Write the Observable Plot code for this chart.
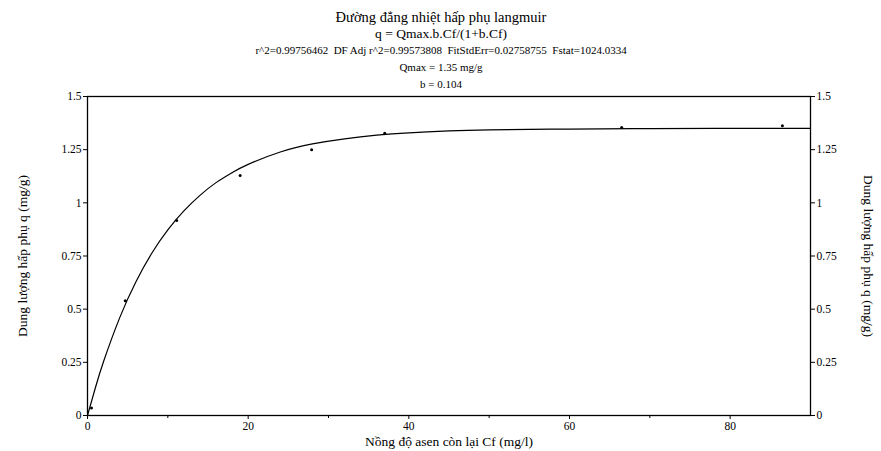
<!DOCTYPE html>
<html>
<head>
<meta charset="utf-8">
<script src="https://cdn.jsdelivr.net/npm/d3@7"></script>
<script src="https://cdn.jsdelivr.net/npm/@observablehq/plot@0.6"></script>
<style>
  html, body { margin: 0; padding: 0; background: #fff; }
  svg { font-family: "Liberation Serif", "DejaVu Serif", serif; }
</style>
</head>
<body>
<div id="chart"></div>
<script>
// Measured points: residual arsenic concentration Cf (mg/l) vs adsorption capacity q (mg/g)
const cfPoints = [0.5, 4.7, 11.1, 19.0, 27.9, 37.0, 66.5, 86.5];
const qPoints  = [0.035, 0.54, 0.917, 1.128, 1.25, 1.327, 1.354, 1.362];

// Fitted curve
const cfCurve = [0, 1, 2, 4, 6, 8, 10, 12, 14, 16, 18, 20, 24, 28, 32, 36, 40, 45, 50, 60, 70, 80, 90];
const qCurve  = [0, 0.133, 0.254, 0.459, 0.627, 0.763, 0.873, 0.962, 1.035, 1.095, 1.142, 1.181, 1.239, 1.277, 1.301, 1.318, 1.329, 1.338, 1.343, 1.347, 1.349, 1.35, 1.35];

const xTicks = [0, 20, 40, 60, 80];
const xMinorTicks = [10, 30, 50, 70];
const yTicks = [0, 0.25, 0.5, 0.75, 1, 1.25, 1.5];

const titleLines = [
  "Đường đẳng nhiệt hấp phụ langmuir",
  "q = Qmax.b.Cf/(1+b.Cf)",
  "r^2=0.99756462  DF Adj r^2=0.99573808  FitStdErr=0.02758755  Fstat=1024.0334",
  "Qmax = 1.35 mg/g",
  "b = 0.104"
];
const xLabel = "Nồng độ asen còn lại Cf (mg/l)";
const yLabel = "Dung lượng hấp phụ q (mg/g)";

const points = cfPoints.map((x, i) => ({x, y: qPoints[i]}));
const curve = cfCurve.map((x, i) => ({x, y: qCurve[i]}));

const titleSizes = [14.5, 13.5, 11, 11, 11];
const titleOffsets = [-79, -63, -46, -29, -12];

const chart = Plot.plot({
  width: 881,
  height: 451,
  marginLeft: 87,
  marginRight: 71,
  marginTop: 96,
  marginBottom: 36,
  style: {fontFamily: "Liberation Serif, serif", fontSize: "11px", color: "#000", background: "#fff"},
  x: {domain: [0, 90]},
  y: {domain: [0, 1.5]},
  marks: [
    Plot.frame({stroke: "#000", strokeWidth: 1.3}),
    Plot.axisX({ticks: xTicks, tickSize: 4, tickPadding: 2, tickFormat: d => String(d), label: null, fontSize: 11.5}),
    Plot.axisX({ticks: xMinorTicks, tickSize: 3, tickFormat: () => "", label: null}),
    Plot.axisY({anchor: "left", ticks: yTicks, tickSize: 4, tickPadding: 2, tickFormat: d => String(d), label: null, fontSize: 11.5}),
    Plot.axisY({anchor: "right", ticks: yTicks, tickSize: 4, tickPadding: 2, tickFormat: d => String(d), label: null, fontSize: 11.5}),
    Plot.line(curve, {x: "x", y: "y", curve: "natural", stroke: "#000", strokeWidth: 1.2}),
    Plot.dot(points, {x: "x", y: "y", r: 1.5, fill: "#000", stroke: null}),
    ...titleLines.map((t, i) => Plot.text([t], {frameAnchor: "top", dx: -8, dy: titleOffsets[i], fontSize: titleSizes[i], fill: "#000", lineAnchor: "middle"})),
    Plot.text([xLabel], {frameAnchor: "bottom", dy: 26, fontSize: 13.5, fill: "#000", lineAnchor: "middle"}),
    Plot.text([yLabel], {frameAnchor: "left", dx: -65, rotate: -90, textAnchor: "middle", fontSize: 13.5, fill: "#000"}),
    Plot.text([yLabel], {frameAnchor: "right", dx: 58, rotate: 90, textAnchor: "middle", fontSize: 13.5, fill: "#000"})
  ]
});
document.getElementById("chart").appendChild(chart);
</script>
</body>
</html>
